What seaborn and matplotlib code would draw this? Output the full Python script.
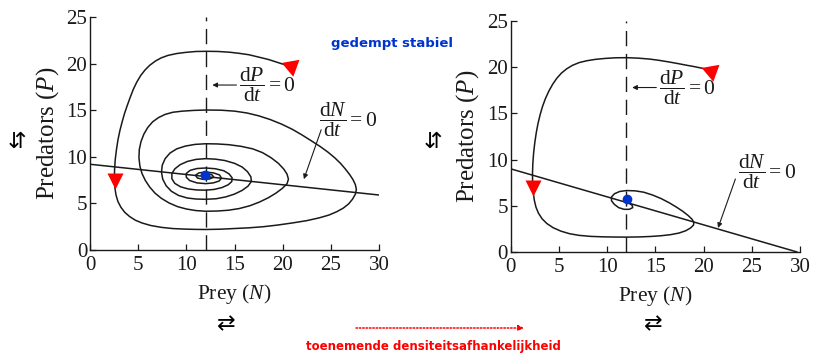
import matplotlib
matplotlib.use("Agg")
import matplotlib.pyplot as plt
from matplotlib.patches import FancyArrowPatch
import seaborn as sns

# ---- data -------------------------------------------------------------
# Left panel: damped predator-prey trajectory as (prey N, predators P)
left_trajectory = [
    (20.3, 19.85), (19.4, 20.15), (18.5, 20.45), (17.5, 20.7), (16.5, 20.95),
    (15.5, 21.1), (14.5, 21.22), (13.3, 21.3), (12.1, 21.32), (11.0, 21.3),
    (9.9, 21.2), (9.0, 21.08), (8.1, 20.88), (7.4, 20.62), (6.8, 20.28),
    (6.2, 19.82), (5.7, 19.3), (5.25, 18.7), (4.85, 18.0), (4.5, 17.25),
    (4.2, 16.45), (3.9, 15.6), (3.6, 14.7), (3.35, 13.8), (3.1, 12.8),
    (2.9, 11.8), (2.75, 10.8), (2.62, 9.7), (2.55, 8.6), (2.53, 7.6),
    (2.58, 6.7), (2.7, 5.9), (2.9, 5.2), (3.2, 4.6), (3.6, 4.05),
    (4.1, 3.6), (4.7, 3.2), (5.4, 2.9), (6.3, 2.63), (7.4, 2.43),
    (8.6, 2.3), (9.9, 2.24), (11.0, 2.21), (12.0, 2.2), (13.5, 2.23),
    (15.0, 2.3), (16.5, 2.38), (18.0, 2.5), (19.5, 2.68), (21.0, 2.9),
    (22.5, 3.15), (23.8, 3.45), (24.8, 3.75), (25.6, 4.1), (26.3, 4.5),
    (26.85, 4.95), (27.25, 5.45), (27.55, 6.0), (27.65, 6.5), (27.55, 7.0),
    (27.3, 7.55), (26.95, 8.1), (26.5, 8.7), (26.0, 9.3), (25.4, 9.9),
    (24.7, 10.5), (23.9, 11.1), (23.0, 11.7), (22.0, 12.35), (21.0, 12.95),
    (19.9, 13.5), (18.7, 14.0), (17.5, 14.4), (16.3, 14.7), (15.0, 14.9),
    (13.6, 15.0), (12.1, 15.02), (10.8, 14.98), (9.6, 14.9), (8.6, 14.78),
    (7.8, 14.55), (7.1, 14.2), (6.5, 13.75), (6.0, 13.15), (5.6, 12.45),
    (5.3, 11.65), (5.12, 10.8), (5.08, 9.9), (5.18, 9.0), (5.4, 8.2),
    (5.75, 7.45), (6.2, 6.75), (6.75, 6.1), (7.4, 5.55), (8.2, 5.05),
    (9.1, 4.65), (10.0, 4.4), (11.0, 4.23), (12.0, 4.16), (13.2, 4.18),
    (14.4, 4.27), (15.5, 4.45), (16.6, 4.75), (17.6, 5.15), (18.5, 5.6),
    (19.3, 6.1), (19.95, 6.6), (20.45, 7.1), (20.6, 7.6), (20.45, 8.15),
    (20.1, 8.7), (19.55, 9.3), (18.8, 9.9), (17.9, 10.45), (16.9, 10.85),
    (15.7, 11.12), (14.4, 11.3), (13.2, 11.38), (12.0, 11.4), (10.9, 11.33),
    (9.9, 11.15), (9.0, 10.85), (8.3, 10.4), (7.8, 9.8), (7.5, 9.1),
    (7.42, 8.35), (7.55, 7.6), (7.9, 6.9), (8.45, 6.3), (9.2, 5.85),
    (10.1, 5.58), (11.0, 5.47), (12.0, 5.44), (13.1, 5.5), (14.1, 5.7),
    (15.0, 6.0), (15.8, 6.4), (16.4, 6.85), (16.75, 7.35), (16.7, 7.85),
    (16.35, 8.4), (15.8, 8.9), (15.0, 9.3), (14.0, 9.6), (13.0, 9.75),
    (12.0, 9.8), (11.0, 9.72), (10.1, 9.5), (9.35, 9.15), (8.8, 8.7),
    (8.5, 8.2), (8.5, 7.65), (8.8, 7.15), (9.4, 6.78), (10.2, 6.55),
    (11.1, 6.44), (12.0, 6.42), (12.9, 6.5), (13.7, 6.7), (14.35, 7.0),
    (14.72, 7.35), (14.75, 7.75), (14.45, 8.15), (13.9, 8.5), (13.0, 8.72),
    (12.0, 8.8), (11.1, 8.74), (10.4, 8.55), (9.98, 8.2), (10.0, 7.8),
    (10.35, 7.45), (11.1, 7.2), (12.0, 7.12), (12.8, 7.2), (13.4, 7.4),
    (13.65, 7.7), (13.45, 8.05), (12.8, 8.28), (12.0, 8.36), (11.3, 8.27),
    (10.95, 8.02), (11.15, 7.72), (11.75, 7.58), (12.4, 7.62), (12.85, 7.82),
    (12.65, 8.08), (12.0, 8.17), (11.55, 8.02), (11.8, 7.84), (12.2, 7.9),
]

# Right panel: stronger density dependence, faster damping
right_trajectory = [
    (19.98, 19.86), (19.1, 20.05), (18.2, 20.22), (17.3, 20.4), (16.4, 20.57),
    (15.4, 20.74), (14.4, 20.88), (13.2, 20.98), (12.03, 21.03), (10.9, 21.02),
    (9.8, 20.95), (8.8, 20.85), (7.9, 20.7), (7.1, 20.5), (6.4, 20.2),
    (5.8, 19.82), (5.25, 19.35), (4.78, 18.8), (4.35, 18.15), (3.95, 17.4),
    (3.6, 16.6), (3.3, 15.75), (3.05, 14.85), (2.83, 13.9), (2.65, 12.9),
    (2.5, 11.85), (2.38, 10.75), (2.3, 9.65), (2.26, 8.55), (2.27, 7.5),
    (2.33, 6.5), (2.45, 5.6), (2.62, 4.85), (2.88, 4.2), (3.25, 3.6),
    (3.75, 3.08), (4.4, 2.63), (5.2, 2.26), (6.1, 1.98), (7.1, 1.8),
    (8.3, 1.69), (9.6, 1.64), (10.8, 1.62), (12.0, 1.61), (13.3, 1.63),
    (14.5, 1.68), (15.6, 1.76), (16.6, 1.88), (17.45, 2.05), (18.15, 2.3),
    (18.65, 2.6), (18.95, 2.9), (19.0, 3.2), (18.8, 3.55), (18.4, 3.95),
    (17.85, 4.4), (17.2, 4.85), (16.45, 5.32), (15.6, 5.78), (14.7, 6.17),
    (13.8, 6.47), (12.9, 6.62), (12.0, 6.65), (11.3, 6.55), (10.75, 6.3),
    (10.45, 5.95), (10.45, 5.55), (10.75, 5.15), (11.2, 4.8), (11.75, 4.62),
    (12.3, 4.62), (12.65, 4.8), (12.6, 5.05), (12.25, 5.3), (12.0, 5.45),
]

# Zero-growth isoclines
left_prey_iso_N = [0, 30]
left_prey_iso_P = [9.2, 5.9]
right_prey_iso_N = [0, 29.7]
right_prey_iso_P = [9.0, 0.0]
pred_iso_N = [12, 12]
pred_iso_P = [0, 25]

# Equilibrium points
left_eq = (11.95, 8.0)
right_eq = (12.05, 5.75)

# Direction markers on the trajectories
left_start_marker = (20.9, 19.7)
left_turn_marker = (2.55, 7.35)
right_start_marker = (20.8, 19.55)
right_turn_marker = (2.35, 6.9)

x_ticks = [0, 5, 10, 15, 20, 25, 30]
y_ticks = [0, 5, 10, 15, 20, 25]

# ---- styling ----------------------------------------------------------
sns.set_theme(style="ticks")
plt.rcParams["font.family"] = ["Liberation Serif", "DejaVu Serif"]
plt.rcParams["mathtext.fontset"] = "custom"
plt.rcParams["mathtext.rm"] = "Liberation Serif"
plt.rcParams["mathtext.it"] = "Liberation Serif:italic"

INK = "#1a1a1a"
RED = "#ff0000"
BLUE = "#0033cc"

fig = plt.figure(figsize=(8.13, 3.56), dpi=100)
W, H = 813, 356
ax1 = fig.add_axes([90 / W, (H - 250) / H, 289 / W, 233 / H])
ax2 = fig.add_axes([510.7 / W, (H - 252) / H, 289.3 / W, 231 / H])


def phase_plane(ax, trajectory, iso_N, iso_P, eq, m_start, m_turn,
                dp_text, dp_arrow, dn_text, dn_arrow):
    traj_N = [p[0] for p in trajectory]
    traj_P = [p[1] for p in trajectory]
    ax.set_facecolor("white")
    # predator isocline (dashed vertical)
    ax.plot(pred_iso_N, pred_iso_P, color=INK, lw=1.0, dashes=(11, 5.5),
            solid_capstyle="butt")
    # prey isocline
    sns.lineplot(x=iso_N, y=iso_P, ax=ax, color=INK, lw=1.1, sort=False,
                 estimator=None)
    # trajectory
    sns.lineplot(x=traj_N, y=traj_P, ax=ax, color=INK, lw=1.1, sort=False,
                 estimator=None)
    # direction markers
    ax.plot(*m_start, marker=(3, 0, 190), ms=15, color=RED, mec="none",
            zorder=5, clip_on=False)
    ax.plot(*m_turn, marker="v", ms=11.5, color=RED, mec="none", zorder=5)
    # equilibrium
    ax.plot(*eq, marker="o", ms=7, color=BLUE, mec="none", zorder=6)

    # isocline labels
    ax.annotate("", xy=dp_arrow[1], xytext=dp_arrow[0],
                arrowprops=dict(arrowstyle="-|>", color=INK, lw=0.8,
                                mutation_scale=7, shrinkA=0, shrinkB=0))
    ax.text(*dp_text, r"$\dfrac{\mathrm{d}P}{\mathrm{d}t}=0$", fontsize=15.5,
            ha="left", va="center", color=INK)
    ax.annotate("", xy=dn_arrow[1], xytext=dn_arrow[0],
                arrowprops=dict(arrowstyle="-|>", color=INK, lw=0.8,
                                mutation_scale=7, shrinkA=0, shrinkB=0))
    ax.text(*dn_text, r"$\dfrac{\mathrm{d}N}{\mathrm{d}t}=0$", fontsize=15.5,
            ha="left", va="center", color=INK)

    ax.set_xlim(0, 30)
    ax.set_ylim(0, 25)
    ax.set_xticks(x_ticks)
    ax.set_yticks(y_ticks)
    ax.tick_params(direction="in", length=4, width=0.9, colors=INK,
                   labelsize=15)
    ax.tick_params(axis="y", pad=2)
    ax.tick_params(axis="x", pad=4)
    for side in ("top", "right"):
        ax.spines[side].set_visible(False)
    for side in ("left", "bottom"):
        ax.spines[side].set_color(INK)
        ax.spines[side].set_linewidth(1.0)
    ax.set_xlabel(r"Prey ($N$)", fontsize=15.5, color=INK, labelpad=5)
    ax.set_ylabel(r"Predators ($P$)", fontsize=18, color=INK, labelpad=4)


phase_plane(ax1, left_trajectory, left_prey_iso_N, left_prey_iso_P,
            left_eq, left_start_marker, left_turn_marker,
            dp_text=(15.5, 17.7), dp_arrow=((15.2, 17.7), (12.7, 17.7)),
            dn_text=(23.8, 14.0), dn_arrow=((24.0, 12.9), (22.2, 7.6)))
phase_plane(ax2, right_trajectory, right_prey_iso_N, right_prey_iso_P,
            right_eq, right_start_marker, right_turn_marker,
            dp_text=(15.4, 17.8), dp_arrow=((15.1, 17.8), (12.6, 17.8)),
            dn_text=(23.6, 8.7), dn_arrow=((23.3, 7.9), (21.5, 2.6)))

# ---- annotations in figure coordinates --------------------------------
fig.text(392 / W, 1 - 43 / H, "gedempt stabiel", color=BLUE, fontsize=9.5,
         fontweight="bold", family=["DejaVu Sans"], ha="center", va="center")

for x in (17, 433):
    fig.text(x / W, 1 - 142 / H, "\u21f5", family=["DejaVu Sans"], fontsize=16,
             ha="center", va="center", color="black")
for x in (226.7, 653):
    fig.text(x / W, 1 - 324 / H, "\u21c4", family=["DejaVu Sans"], fontsize=16,
             ha="center", va="center", color="black")

fig.add_artist(FancyArrowPatch(
    (356 / W, 1 - 328 / H), (524 / W, 1 - 328 / H), transform=fig.transFigure,
    arrowstyle="-|>", mutation_scale=8, color=RED, lw=1.1,
    linestyle=(0, (1, 1.2)), shrinkA=0, shrinkB=0))
fig.text(433 / W, 1 - 346.5 / H, "toenemende densiteitsafhankelijkheid",
         color=RED, fontsize=8.5, fontweight="bold", family=["DejaVu Sans"],
         ha="center", va="center")

fig.savefig("out.png", dpi=100, facecolor="white")
